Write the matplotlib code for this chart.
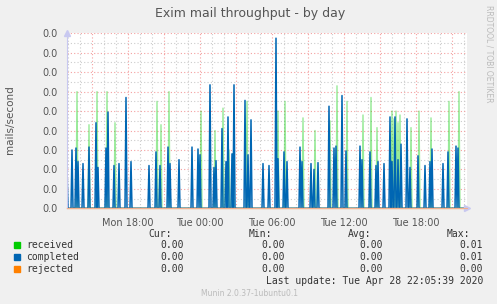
import numpy as np
import matplotlib
matplotlib.use("Agg")
import matplotlib.pyplot as plt
from matplotlib.ticker import MultipleLocator, FormatStrFormatter

# 5-minute samples, index 0 = Mon 12:55, Tue 00:00 = index 133
n_samples = 400
tue_midnight = 133

# spikes (sample index, mails/second)
completed_idx = [0, 5, 9, 11, 16, 22, 29, 31, 39, 41, 47, 52, 59, 64, 82, 89, 93,
                 101, 103, 112, 125, 131, 133, 143, 147, 149, 155, 159, 161, 165, 167,
                 178, 181, 184, 196, 202, 209, 211, 217, 220, 233, 235, 244, 247, 251,
                 262, 267, 269, 275, 279, 293, 295, 303, 309, 311, 317, 323, 325, 328,
                 331, 334, 340, 343, 351, 358, 363, 365, 376, 381, 389, 391]
completed_val = [2.0, 3.0, 3.1, 2.4, 2.3, 3.15, 4.4, 2.1, 3.1, 4.95, 2.2, 2.3, 5.7, 2.4,
                 2.2, 2.9, 2.2, 3.15, 2.3, 2.5, 3.15, 3.05, 2.75, 6.35, 2.1, 2.45, 4.1,
                 2.4, 4.7, 2.8, 6.35, 5.55, 2.75, 4.55, 2.3, 2.2, 8.75, 2.55, 2.9, 2.4,
                 3.15, 2.4, 2.3, 2.0, 2.35, 5.25, 3.1, 3.2, 5.8, 2.95, 3.2, 2.5, 2.9,
                 2.2, 2.4, 2.3, 4.7, 2.4, 4.7, 2.5, 3.3, 4.6, 2.1, 2.7, 2.2, 2.4, 3.05,
                 2.3, 2.9, 3.2, 3.1]

received_idx = [10, 22, 30, 40, 48, 90, 94, 102, 134, 148, 156, 162, 166, 180, 211,
                218, 236, 248, 263, 270, 280, 296, 304, 310, 325, 327, 329, 331, 333,
                344, 352, 364, 382, 392]
received_val = [6.0, 4.3, 6.0, 6.0, 4.4, 5.5, 4.3, 6.0, 5.0, 4.0, 5.15, 3.0, 2.8, 5.5,
                5.0, 5.5, 4.65, 4.0, 4.5, 6.3, 5.5, 4.8, 5.7, 4.15, 5.0, 4.6, 5.0, 4.4,
                4.8, 4.15, 5.0, 4.65, 5.5, 6.0]

tick_hours = [-6, 0, 6, 12, 18]
tick_labels = ["Mon 18:00", "Tue 00:00", "Tue 06:00", "Tue 12:00", "Tue 18:00"]

legend_names = ["received", "completed", "rejected"]
legend_colors = ["#00CC00", "#0066B3", "#FF8000"]
cur_vals = ["0.00", "0.00", "0.00"]
min_vals = ["0.00", "0.00", "0.00"]
avg_vals = ["0.00", "0.00", "0.00"]
max_vals = ["0.01", "0.01", "0.00"]

t = (np.arange(n_samples) - tue_midnight) / 12.0
received = np.zeros(n_samples)
completed = np.zeros(n_samples)
rejected = np.zeros(n_samples)
received[received_idx] = np.array(received_val) / 1000
completed[completed_idx] = np.array(completed_val) / 1000

W, H = 497, 304
fig = plt.figure(figsize=(W / 100, H / 100), dpi=100, facecolor="#F0F0F0")
ax = fig.add_axes([67 / W, 1 - 208.3 / H, 400 / W, 175 / H], facecolor="white")

ax.plot(t, received, color="#00CC00", lw=1.0, alpha=0.4)
ax.plot(t, completed, color="#0066B3", lw=1.1)
ax.plot(t, rejected, color="#FF8000", lw=1.0, alpha=0.5, clip_on=False)

ax.set_xlim(-tue_midnight / 12, (n_samples - tue_midnight) / 12)
ax.set_ylim(0, 0.009)
ax.yaxis.set_major_locator(MultipleLocator(0.001))
ax.yaxis.set_minor_locator(MultipleLocator(0.0005))
ax.yaxis.set_major_formatter(FormatStrFormatter("%.1f"))
ax.grid(which="minor", axis="y", color="#CCCCCC", ls=(0, (1, 2)), lw=0.8)
ax.grid(which="major", axis="y", color="#F4A0A0", ls=(0, (1, 2)), lw=0.8)
ax.set_axisbelow(True)

# x labels only at 6 h steps, grid every hour (red every 3 h)
ax.set_xticks(tick_hours, labels=tick_labels)
for h in np.arange(-11, 23, 1):
    col = "#F4A0A0" if h % 3 == 0 else "#CCCCCC"
    ax.axvline(h, color=col, ls=(0, (1, 2)), lw=0.8, zorder=0)

ax.tick_params(which="both", length=0, labelsize=7, labelcolor="#555555", pad=7)
for s in ["top", "right"]:
    ax.spines[s].set_visible(False)
ax.spines["left"].set_color("#C8C8F0")
ax.spines["bottom"].set_color("#F0B090")
ax.plot([0], [1.0], marker="^", color="#C8C8F0", ms=4, transform=ax.transAxes, clip_on=False)
ax.plot([1.0], [0], marker=">", color="#C8C8F0", ms=4, transform=ax.transAxes, clip_on=False)

fig.text(250 / W, 1 - 14 / H, "Exim mail throughput - by day", ha="center", va="center",
         fontsize=9, color="#555555")
fig.text(10 / W, 1 - 120 / H, "mails/second", rotation=90, ha="center", va="center",
         fontsize=7.5, color="#555555")
fig.text(489 / W, 1 - 5 / H, "RRDTOOL / TOBI OETIKER", rotation=270, ha="center", va="top",
         fontsize=5.5, color="#BBBBBB")

mono = dict(family="DejaVu Sans Mono", fontsize=7, color="#333333", va="center")
fig.text(172 / W, 1 - 233.7 / H, "Cur:", ha="right", **mono)
fig.text(272 / W, 1 - 233.7 / H, "Min:", ha="right", **mono)
fig.text(371 / W, 1 - 233.7 / H, "Avg:", ha="right", **mono)
fig.text(470 / W, 1 - 233.7 / H, "Max:", ha="right", **mono)
for k, name in enumerate(legend_names):
    y = 1 - (244.7 + 12 * k) / H
    fig.patches.append(plt.Rectangle((14 / W, y - 3.5 / H), 6 / W, 6 / H, color=legend_colors[k],
                                     transform=fig.transFigure, figure=fig))
    fig.text(26 / W, y, name, ha="left", **mono)
    fig.text(184 / W, y, cur_vals[k], ha="right", **mono)
    fig.text(285 / W, y, min_vals[k], ha="right", **mono)
    fig.text(383 / W, y, avg_vals[k], ha="right", **mono)
    fig.text(483 / W, y, max_vals[k], ha="right", **mono)
fig.text(483 / W, 1 - 281 / H, "Last update: Tue Apr 28 22:05:39 2020", ha="right", **mono)
fig.text(250 / W, 1 - 293 / H, "Munin 2.0.37-1ubuntu0.1", ha="center", va="center",
         fontsize=5.5, color="#BBBBBB")

fig.savefig("out.png", dpi=100, facecolor=fig.get_facecolor())
